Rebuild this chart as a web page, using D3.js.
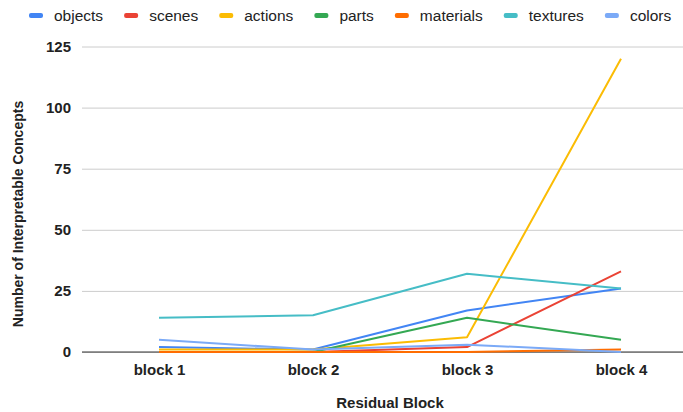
<!DOCTYPE html>
<html>
<head>
<meta charset="utf-8">
<script src="https://cdn.jsdelivr.net/npm/d3@7"></script>
<style>
  body { margin: 0; background: #fff; }
  text { font-family: "Liberation Sans", Arial, sans-serif; }
</style>
</head>
<body>
<svg id="chart" width="683" height="412"></svg>
<script>
// data
var blocks = ['block 1', 'block 2', 'block 3', 'block 4'];
var seriesNames = ['objects', 'scenes', 'actions', 'parts', 'materials', 'textures', 'colors'];
var seriesColors = ['#4285f4', '#ea4335', '#fbbc04', '#34a853', '#ff6d01', '#46bdc6', '#7baaf7'];
var objects = [2, 1, 17, 26];
var scenes = [0, 0, 2, 33];
var actions = [1, 1, 6, 120];
var parts = [0, 0, 14, 5];
var materials = [0, 0, 0, 1];
var textures = [14, 15, 32, 26];
var colors = [5, 1, 3, 0];
var yTicks = [0, 25, 50, 75, 100, 125];

var allValues = [objects, scenes, actions, parts, materials, textures, colors];

var svg = d3.select('#chart');
var plotL = 82, plotR = 698, plotT = 46, plotB = 352;

var x = d3.scalePoint().domain(blocks).range([plotL, plotR]).padding(0.5);
var y = d3.scaleLinear().domain([0, 125]).range([plotB, plotT + 0.5]);

// gridlines
svg.append('g')
  .attr('transform', 'translate(' + plotL + ',0)')
  .call(d3.axisLeft(y).tickValues(yTicks).tickSize(-(plotR - plotL)).tickFormat(''))
  .call(function(g) {
    g.select('.domain').remove();
    g.selectAll('line').attr('stroke', '#cccccc').attr('stroke-width', 1);
  });

// y tick labels
svg.append('g')
  .attr('transform', 'translate(' + (plotL - 8) + ',0)')
  .call(d3.axisLeft(y).tickValues(yTicks).tickSize(0))
  .call(function(g) {
    g.select('.domain').remove();
    g.selectAll('text')
      .attr('font-size', 15).attr('font-weight', 'bold').attr('fill', '#222')
      .attr('font-family', '"Liberation Sans", Arial, sans-serif');
  });

// baseline
svg.append('line')
  .attr('x1', plotL).attr('x2', plotR)
  .attr('y1', y(0)).attr('y2', y(0))
  .attr('stroke', '#333').attr('stroke-width', 1);

// x tick labels
svg.append('g')
  .attr('transform', 'translate(0,' + (plotB + 9) + ')')
  .call(d3.axisBottom(x).tickSize(0))
  .call(function(g) {
    g.select('.domain').remove();
    g.selectAll('text')
      .attr('font-size', 15).attr('font-weight', 'bold').attr('fill', '#222')
      .attr('font-family', '"Liberation Sans", Arial, sans-serif');
  });

// lines
var line = d3.line()
  .x(function(d, i) { return x(blocks[i]); })
  .y(function(d) { return y(d); });

allValues.forEach(function(vals, i) {
  svg.append('path')
    .datum(vals)
    .attr('fill', 'none')
    .attr('stroke', seriesColors[i])
    .attr('stroke-width', 2)
    .attr('stroke-linejoin', 'round')
    .attr('d', line);
});

// axis titles
svg.append('text')
  .attr('x', 390).attr('y', 408)
  .attr('text-anchor', 'middle')
  .attr('font-size', 15).attr('font-weight', 'bold').attr('fill', '#222')
  .text('Residual Block');

svg.append('text')
  .attr('transform', 'translate(23,214) rotate(-90)')
  .attr('text-anchor', 'middle')
  .attr('font-size', 14).attr('font-weight', 'bold').attr('fill', '#222')
  .text('Number of Interpretable Concepts');

// legend
var lx = 29;
seriesNames.forEach(function(name, i) {
  svg.append('rect')
    .attr('x', lx).attr('y', 13)
    .attr('width', 14).attr('height', 5)
    .attr('rx', 2)
    .attr('fill', seriesColors[i]);
  var t = svg.append('text')
    .attr('x', lx + 25).attr('y', 21)
    .attr('font-size', 15.5).attr('fill', '#222')
    .text(name);
  lx += 25 + t.node().getComputedTextLength() + 21;
});
</script>
</body>
</html>
